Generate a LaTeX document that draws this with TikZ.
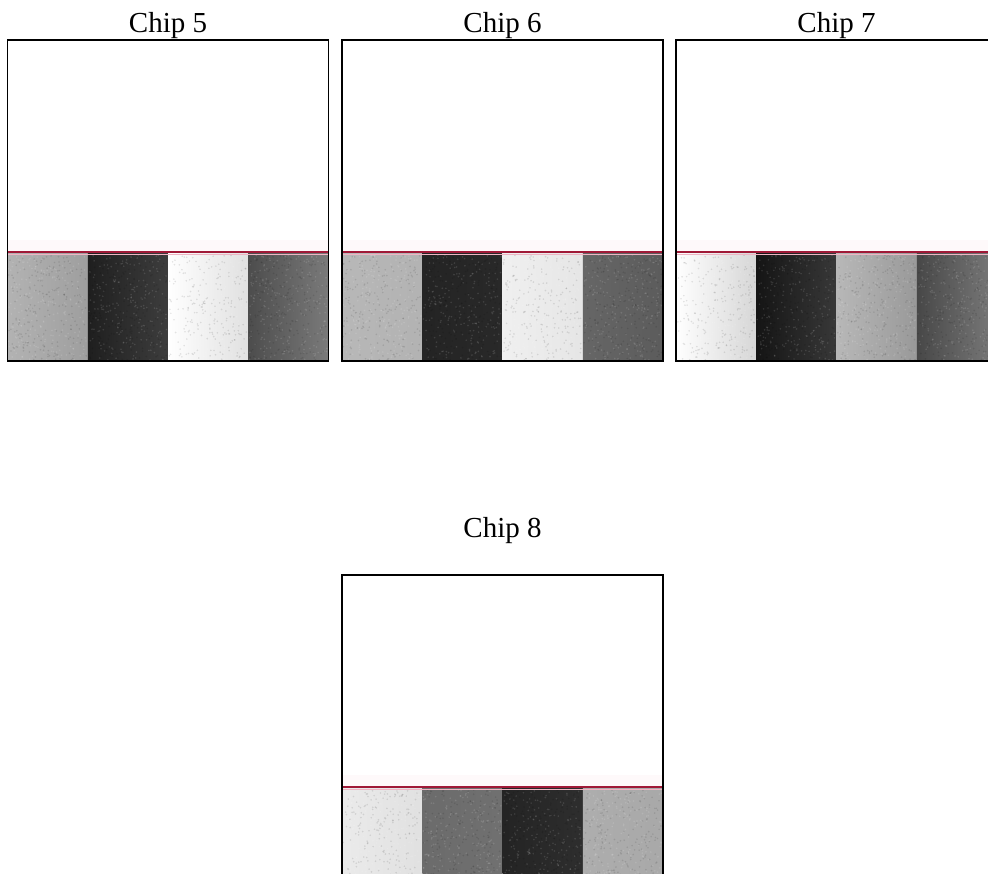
\documentclass[tikz,border=0pt]{standalone}
\usepackage{fontspec}
\setmainfont{Liberation Serif}
\definecolor{redline}{RGB}{160,25,55}
\definecolor{pinkline}{RGB}{240,180,195}
\definecolor{pinkhaze}{RGB}{254,249,250}
\tikzset{
  chiplabel/.style={anchor=base, inner sep=0pt, font=\fontsize{29}{34}\selectfont},
  chipframe/.style={draw=black, line width=1.3pt},
  redrule/.style={draw=redline, line width=1.6pt},
  pinkrule/.style={draw=pinkline, line width=1.0pt},
  darkspeck/.style={fill=black, opacity=0.10},
  lightspeck/.style={fill=white, opacity=0.12}
}
\pgfmathsetseed{7}
% stripe: #1 left x, #2 top y of chip, #3 left gray (percent black), #4 right gray
\newcommand{\chipstripe}[4]{%
  \shade[left color=black!#3!white, right color=black!#4!white]
    (#1,#2+212) rectangle (#1+80.25,#2+321);
  \foreach \k in {1,...,220}{%
    \pgfmathsetmacro\px{#1+1+rnd*78}%
    \pgfmathsetmacro\py{#2+215+rnd*105}%
    \fill[darkspeck] (\px,\py) circle (0.9);
    \pgfmathsetmacro\qx{#1+1+rnd*78}%
    \pgfmathsetmacro\qy{#2+215+rnd*105}%
    \fill[lightspeck] (\qx,\qy) circle (0.9);
  }%
}
% frame and red interface line: #1 left x, #2 top y
\newcommand{\chipframeat}[2]{%
  \fill[pinkhaze] (#1,#2+200) rectangle (#1+321,#2+211);
  \draw[pinkrule] (#1,#2+214) -- (#1+321,#2+214);
  \draw[redrule] (#1,#2+212) -- (#1+321,#2+212);
  \draw[chipframe] (#1,#2) rectangle (#1+321,#2+321);
}
\begin{document}
\begin{tikzpicture}[x=1pt,y=-1pt]
\useasboundingbox (0,0) rectangle (988,873);
\clip (0,0) rectangle (988,873);
% Chip 5
\chipstripe{7.5}{40}{30}{38}
\chipstripe{87.75}{40}{88}{76}
\chipstripe{168}{40}{0}{12}
\chipstripe{248.25}{40}{70}{52}
\chipframeat{7.5}{40}
\node[chiplabel] (l5) at (168,32) {Chip 5};
% Chip 6
\chipstripe{342}{40}{28}{30}
\chipstripe{422.25}{40}{86}{84}
\chipstripe{502.5}{40}{6}{10}
\chipstripe{582.75}{40}{60}{64}
\chipframeat{342}{40}
\node[chiplabel] (l6) at (502.5,32) {Chip 6};
% Chip 7
\chipstripe{676}{40}{0}{16}
\chipstripe{756.25}{40}{92}{78}
\chipstripe{836.5}{40}{28}{40}
\chipstripe{916.75}{40}{72}{52}
\chipframeat{676}{40}
\node[chiplabel] (l7) at (836.5,32) {Chip 7};
% Chip 8
\chipstripe{342}{575}{8}{12}
\chipstripe{422.25}{575}{58}{56}
\chipstripe{502.5}{575}{86}{82}
\chipstripe{582.75}{575}{32}{34}
\chipframeat{342}{575}
\node[chiplabel] (l8) at (502.5,537) {Chip 8};
\end{tikzpicture}
\end{document}
